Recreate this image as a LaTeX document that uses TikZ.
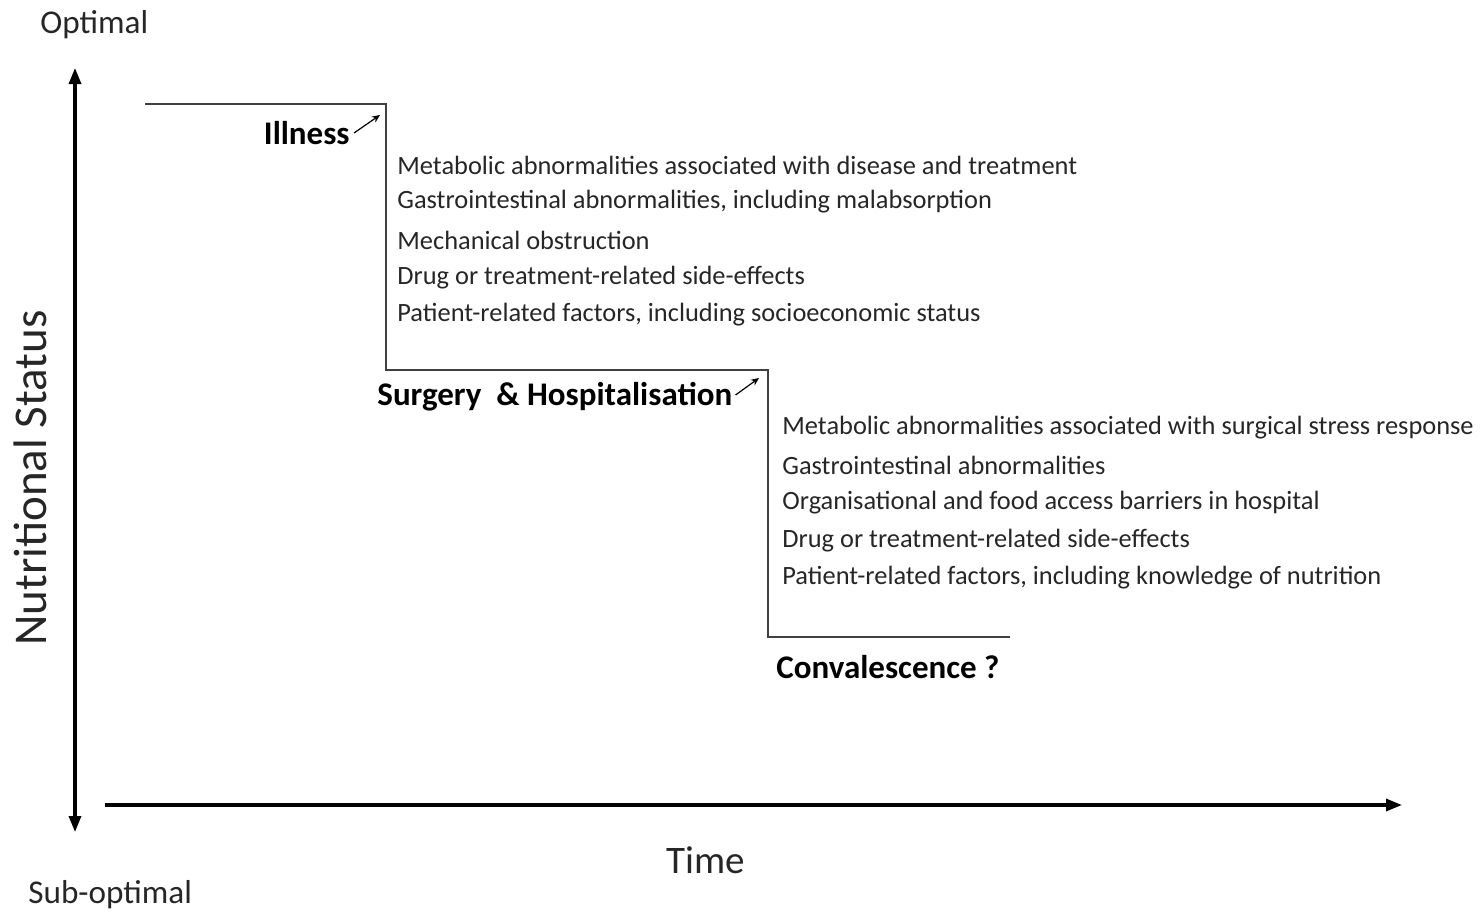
\documentclass[tikz,border=0pt]{standalone}
\usepackage{fontspec}
\setmainfont{Carlito}
\usetikzlibrary{arrows.meta}
\begin{document}
\begin{tikzpicture}[x=0.5pt,y=-0.5pt,
  item/.style={anchor=west,inner sep=0pt,text=black!85,font=\fontsize{13.2}{15}\selectfont},
  stage/.style={inner sep=0pt,font=\fontsize{16.5}{19}\selectfont\bfseries},
  axislabel/.style={inner sep=0pt,text=black!85,font=\fontsize{16.6}{19}\selectfont},
  axis/.style={line width=1.6pt,-{Triangle[length=8pt,width=6pt]}},
  stepline/.style={line width=1.2pt,draw=black!75},
  pointer/.style={line width=0.6pt,-{Stealth[length=4pt,width=3.5pt]}}]
\useasboundingbox (0,0) rectangle (1480,916);
% axes
\node[axislabel,anchor=west] (opt) at (40,25) {Optimal};
\node[axislabel,anchor=west] (sub) at (28,895) {Sub-optimal};
\coordinate (ytop) at (75,68);
\coordinate (ybot) at (75,832);
\draw[axis,{Triangle[length=8pt,width=6pt]}-{Triangle[length=8pt,width=6pt]}] (ybot) -- (ytop);
\coordinate (xl) at (105,805);
\coordinate (xr) at (1402,805);
\draw[axis] (xl) -- (xr);
\node[inner sep=0pt,text=black!85,font=\fontsize{19.5}{23}\selectfont] (time) at (706,860) {Time};
\node[inner sep=0pt,text=black!85,font=\fontsize{23.5}{27}\selectfont,rotate=90] (ns) at (30,478) {Nutritional Status};
% step line
\coordinate (s0) at (145,104);
\coordinate (s1) at (386,104);
\coordinate (s2) at (386,370);
\coordinate (s3) at (768,370);
\coordinate (s4) at (768,637);
\coordinate (s5) at (1010,637);
\draw[stepline] (s0) -- (s1) -- (s2) -- (s3) -- (s4) -- (s5);
% stages
\node[stage,anchor=east] (ill) at (350,133) {Illness};
\coordinate (illtip) at (380,115);
\draw[pointer] ([xshift=2pt,yshift=0pt]ill.east) -- (illtip);
\node[stage,anchor=west] (surg) at (377,397) {Surgery\ \ \& Hospitalisation};
\coordinate (surgtip) at (759,378);
\draw[pointer] ([xshift=1.5pt,yshift=1pt]surg.east) -- (surgtip);
\node[stage,anchor=west] (conv) at (776,667) {Convalescence ?};
% illness items
\node[item] (i1) at (397,165) {Metabolic abnormalities associated with disease and treatment};
\node[item] (i2) at (397,202) {Gastrointestinal abnormalities, including malabsorption};
\node[item] (i3) at (397,240) {Mechanical obstruction};
\node[item] (i4) at (397,278) {Drug or treatment-related side-effects};
\node[item] (i5) at (397,315) {Patient-related factors, including socioeconomic status};
% surgery items
\node[item] (h1) at (782,428) {Metabolic abnormalities associated with surgical stress response};
\node[item] (h2) at (782,465) {Gastrointestinal abnormalities};
\node[item] (h3) at (782,503) {Organisational and food access barriers in hospital};
\node[item] (h4) at (782,541) {Drug or treatment-related side-effects};
\node[item] (h5) at (782,578) {Patient-related factors, including knowledge of nutrition};
\end{tikzpicture}
\end{document}
